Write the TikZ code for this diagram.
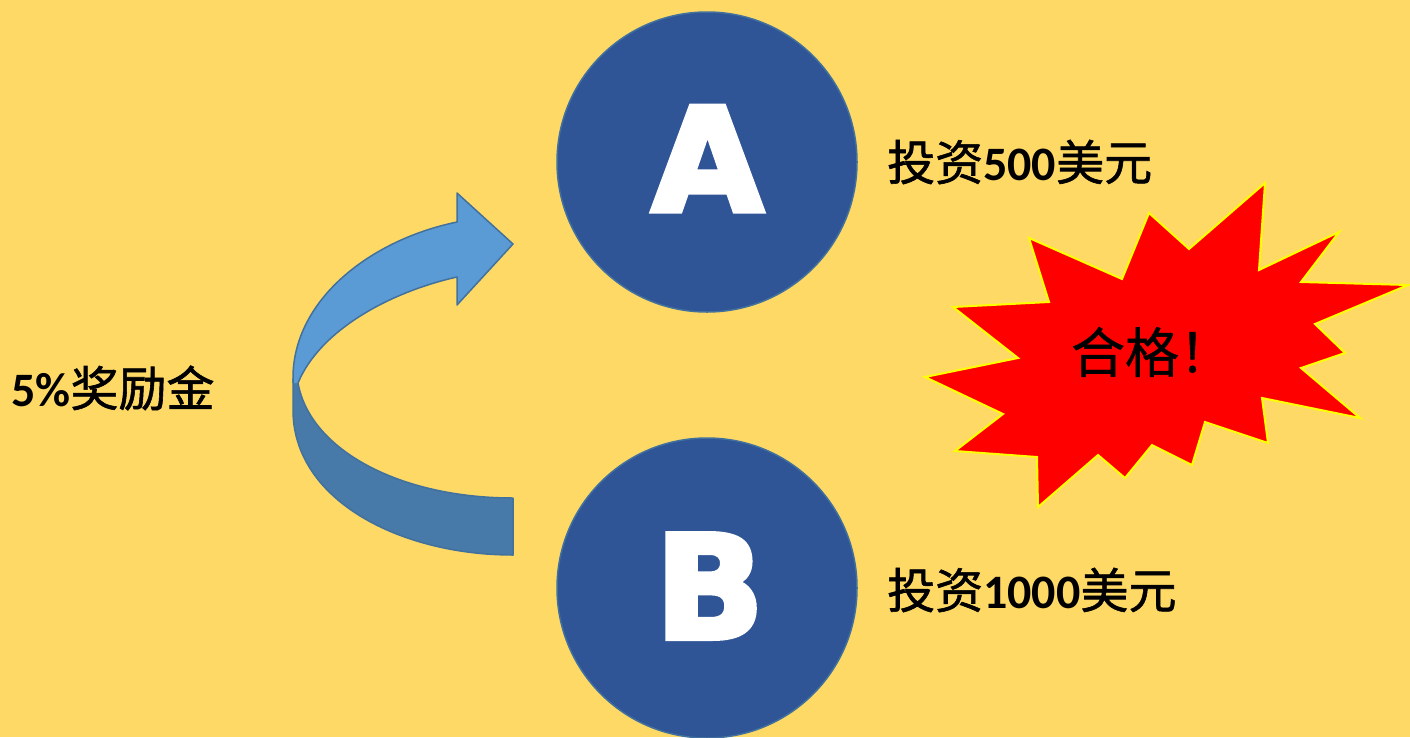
\documentclass[tikz,border=0pt]{standalone}
\usepackage{fontspec}
\newfontfamily\cjk{Noto Sans CJK SC}[FakeBold=1.2]
\newfontfamily\cjkok{Noto Sans CJK SC}[FakeBold=0.8]
\newfontfamily\num{Carlito}[BoldFont=Carlito Bold]
\newfontfamily\dejab{DejaVu Sans Bold}[FakeBold=4]
\definecolor{bg}{HTML}{FFD966}
\definecolor{circfill}{HTML}{2F5597}
\definecolor{circline}{HTML}{41719C}
\definecolor{arrlight}{HTML}{5B9BD5}
\definecolor{arrdark}{HTML}{4779A9}
\definecolor{starfill}{HTML}{FF0000}
\definecolor{starline}{HTML}{FFFF00}
\tikzset{
  bigcirc/.style={circle, fill=circfill, draw=circline, line width=1.5pt, minimum size=300pt, inner sep=0pt},
  bigletter/.style={text=white, font=\dejab\fontsize{143}{143}\selectfont, inner sep=0pt},
  lbl/.style={font=\cjk\fontsize{48}{48}\selectfont, inner sep=0pt, anchor=west, text=black},
  arrowband/.style={draw=circline, line width=1.5pt, line join=round},
}
\newcommand{\dg}[1]{{\num\bfseries #1}}
\begin{document}
\begin{tikzpicture}[x=1pt, y=-1pt]
\fill[bg] (0,0) rectangle (1410,737);
\useasboundingbox (0,0) rectangle (1410,737);
% circles
\node[bigcirc] (A) at (707,162) {};
\node[bigletter] (Atext) at (707.5,158.5) {A};
\begin{scope}
\clip (0,0) rectangle (1410,737);
\node[bigcirc] (B) at (707,588) {};
\end{scope}
\node[bigletter] (Btext) at (709.5,586) {B};
% labels
\node[lbl] (la) at (887,162) {投资\dg{500}美元};
\node[lbl] (lb) at (887,590) {投资\dg{1000}美元};
\node[lbl] (lc) at (11,388) {\dg{5\%}奖励金};
% curved arrow: dark back band
\fill[arrdark] (298,383) .. controls (310,450) and (400,498) .. (513,498)
  -- (513,555) .. controls (400,555) and (293,500) .. (293,410) -- (293,378) -- cycle;
\draw[arrowband] (298,383) .. controls (310,450) and (400,498) .. (513,498)
  -- (513,555) .. controls (400,555) and (293,500) .. (293,410) -- (293,378);
% light front band with head
\fill[arrlight] (293,383) -- (293,378) .. controls (293,300) and (370,240) .. (457,222)
  -- (457,193) -- (513,244) -- (457,305) -- (457,277)
  .. controls (390,292) and (320,330) .. (298,383) -- cycle;
\draw[arrowband] (293,383) -- (293,378) .. controls (293,300) and (370,240) .. (457,222)
  -- (457,193) -- (513,244) -- (457,305) -- (457,277)
  .. controls (390,292) and (320,330) .. (298,383);
% starburst
\draw[fill=starfill, draw=starline, line width=2pt, line join=miter]
  (1265,183) -- (1259,270) -- (1339,232) -- (1301,282) -- (1408,285)
  -- (1315,324) -- (1345,353) -- (1301,368) -- (1360,418) -- (1262,398)
  -- (1268,443) -- (1205,422) -- (1192,465) -- (1152,445) -- (1125,478)
  -- (1098,455) -- (1038,507) -- (1037,457) -- (955,451) -- (1003,414)
  -- (925,377) -- (1018,358) -- (953,307) -- (1049,302) -- (1029,238)
  -- (1122,279) -- (1149,213) -- (1189,249) -- cycle;
\node[font=\cjkok\fontsize{54}{54}\selectfont, inner sep=0pt] (ok) at (1152,352) {合格！};
\end{tikzpicture}
\end{document}
